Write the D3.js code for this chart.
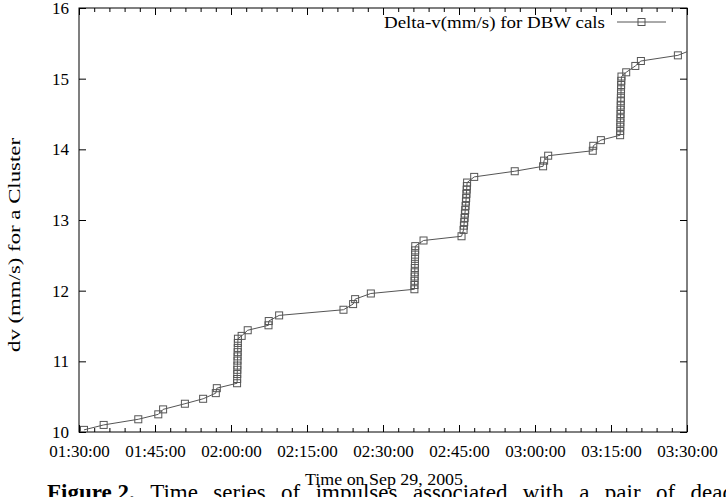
<!DOCTYPE html>
<html><head><meta charset="utf-8">
<script src="https://cdn.jsdelivr.net/npm/d3@7"></script>
<style>
body{margin:0;background:#fff;}
svg{display:block;font-family:"Liberation Serif","Times New Roman",serif;}
</style></head>
<body><svg id="c" width="726" height="497"></svg>
<script>
// ---- data ----
const times = [
 "01:30:59","01:34:52","01:41:42","01:45:39","01:46:36","01:50:54","01:54:30","01:57:00","01:57:12",
 "02:01:12","02:01:13","02:01:14","02:01:15","02:01:16","02:01:17","02:01:18","02:01:19","02:01:20","02:01:21","02:01:22",
 "02:02:06","02:03:18","02:07:24","02:07:27","02:09:30","02:22:12","02:24:06","02:24:30","02:27:36",
 "02:36:12","02:36:13","02:36:14","02:36:15","02:36:16","02:36:17","02:36:18","02:36:19","02:36:20","02:36:21","02:36:22",
 "02:38:00","02:45:30",
 "02:45:54","02:45:58","02:46:02","02:46:06","02:46:10","02:46:14","02:46:18","02:46:22","02:46:25","02:46:28","02:46:31","02:46:33","02:46:36",
 "02:48:00","02:56:00","03:01:36","03:01:48","03:02:36","03:11:24","03:11:30","03:13:00",
 "03:16:48","03:16:49","03:16:50","03:16:51","03:16:52","03:16:53","03:16:54","03:16:55","03:16:56","03:16:57","03:16:58","03:16:59","03:17:00","03:17:02","03:17:04",
 "03:18:00","03:19:48","03:20:54","03:28:12","03:31:00"
];
const values = [
 10.03,10.10,10.18,10.25,10.32,10.40,10.47,10.55,10.62,
 10.69,10.75,10.82,10.88,10.94,11.01,11.07,11.13,11.19,11.26,11.32,
 11.36,11.44,11.51,11.57,11.65,11.73,11.81,11.88,11.96,
 12.02,12.08,12.14,12.20,12.26,12.32,12.38,12.45,12.51,12.57,12.63,
 12.71,12.77,
 12.86,12.92,12.97,13.03,13.09,13.14,13.20,13.26,13.31,13.37,13.43,13.48,13.53,
 13.61,13.69,13.76,13.84,13.91,13.98,14.05,14.13,
 14.20,14.26,14.32,14.38,14.44,14.50,14.56,14.62,14.68,14.73,14.79,14.85,14.91,14.97,15.03,
 15.09,15.18,15.25,15.33,15.41
];
const xTickLabels = ["01:30:00","01:45:00","02:00:00","02:15:00","02:30:00","02:45:00","03:00:00","03:15:00","03:30:00"];
const yTickValues = [10,11,12,13,14,15,16];
const seriesName = "Delta-v(mm/s) for DBW cals";
const xTitle = "Time on Sep 29, 2005";
const yTitle = "dv (mm/s) for a Cluster";
const captionBold = "Figure 2.";
const captionWords = ["Time","series","of","impulses","associated","with","a","pair","of","dead"];

// ---- chart ----
const parse = d3.timeParse("%H:%M:%S");
const fmt = d3.timeFormat("%H:%M:%S");
const data = times.map((t,i)=>({t:parse(t), v:values[i]}));
const L=79, R=687, T=8, B=432;
const svg = d3.select("#c");
const x = d3.scaleTime().domain([parse(xTickLabels[0]), parse(xTickLabels[xTickLabels.length-1])]).range([L,R]);
const y = d3.scaleLinear().domain([10,16]).range([B,T]);
const majorX = xTickLabels.map(parse);
const minorX = d3.timeMinute.every(3).range(majorX[0], majorX[majorX.length-1]).filter(d=>d.getMinutes()%15!==0);

const ink="#000", gray="#555";
const FF = "'Liberation Serif','Times New Roman',serif";
function style(g){ g.select(".domain").remove(); g.selectAll("line").attr("stroke",ink); g.selectAll("text").attr("font-family",FF).attr("font-size",17).attr("fill",ink); }

svg.append("g").attr("transform",`translate(0,${B})`)
  .call(d3.axisBottom(x).tickValues(majorX).tickFormat(fmt).tickSize(-7).tickPadding(13)).call(style);
svg.append("g").attr("transform",`translate(0,${B})`)
  .call(d3.axisBottom(x).tickValues(minorX).tickFormat("").tickSize(-4)).call(style);
svg.append("g").attr("transform",`translate(0,${T})`)
  .call(d3.axisTop(x).tickValues(majorX).tickFormat("").tickSize(-7)).call(style);
svg.append("g").attr("transform",`translate(0,${T})`)
  .call(d3.axisTop(x).tickValues(minorX).tickFormat("").tickSize(-4)).call(style);
svg.append("g").attr("transform",`translate(${L},0)`)
  .call(d3.axisLeft(y).tickValues(yTickValues).tickFormat(d3.format("d")).tickSize(-7).tickPadding(10)).call(style);
svg.append("g").attr("transform",`translate(${R},0)`)
  .call(d3.axisRight(y).tickValues(yTickValues).tickFormat("").tickSize(-7)).call(style);

svg.append("rect").attr("x",L).attr("y",T).attr("width",R-L).attr("height",B-T)
  .attr("fill","none").attr("stroke",ink).attr("stroke-width",1);

svg.append("clipPath").attr("id","clip").append("rect").attr("x",L).attr("y",T).attr("width",R-L).attr("height",B-T);
const plot = svg.append("g").attr("clip-path","url(#clip)");
plot.append("path").datum(data)
  .attr("d", d3.line().x(d=>x(d.t)).y(d=>y(d.v)))
  .attr("fill","none").attr("stroke",gray).attr("stroke-width",1);
const ms=7;
plot.selectAll("rect.m").data(data).join("rect").attr("class","m")
  .attr("x",d=>x(d.t)-ms/2).attr("y",d=>y(d.v)-ms/2).attr("width",ms).attr("height",ms)
  .attr("fill","none").attr("stroke",gray).attr("stroke-width",1);

// legend
const ly=22;
svg.append("text").attr("x",605).attr("y",ly).attr("dy","0.35em").attr("text-anchor","end")
  .attr("font-family",FF).attr("font-size",17).attr("textLength",221).attr("lengthAdjust","spacingAndGlyphs").text(seriesName);
svg.append("line").attr("x1",617).attr("x2",666).attr("y1",ly).attr("y2",ly).attr("stroke",gray);
svg.append("rect").attr("x",641.5-ms/2).attr("y",ly-ms/2).attr("width",ms).attr("height",ms)
  .attr("fill","none").attr("stroke",gray);

// titles
svg.append("text").attr("x",384).attr("y",485).attr("text-anchor","middle")
  .attr("font-family",FF).attr("font-size",16.5).attr("textLength",158).attr("lengthAdjust","spacingAndGlyphs").text(xTitle);
svg.append("text").attr("transform",`translate(20,245) rotate(-90)`).attr("text-anchor","middle")
  .attr("font-family",FF).attr("font-size",16).attr("textLength",214).attr("lengthAdjust","spacingAndGlyphs").text(yTitle);

// caption (justified line, partially cut at bottom)
const capG = svg.append("g").attr("font-family",FF).attr("font-size",23);
const capY = 500, capX0 = 47, capX1 = 734;
const items = [{w:captionBold,bold:true}].concat(captionWords.map(w=>({w,bold:false})));
const nodes = items.map(it => capG.append("text").attr("y",capY).attr("font-weight",it.bold?"bold":"normal").text(it.w));
const widths = nodes.map(n => n.node().getComputedTextLength());
const gap = (capX1 - capX0 - d3.sum(widths)) / (nodes.length - 1);
let cx = capX0;
nodes.forEach((n,i)=>{ n.attr("x",cx); cx += widths[i] + gap; });
</script></body></html>
